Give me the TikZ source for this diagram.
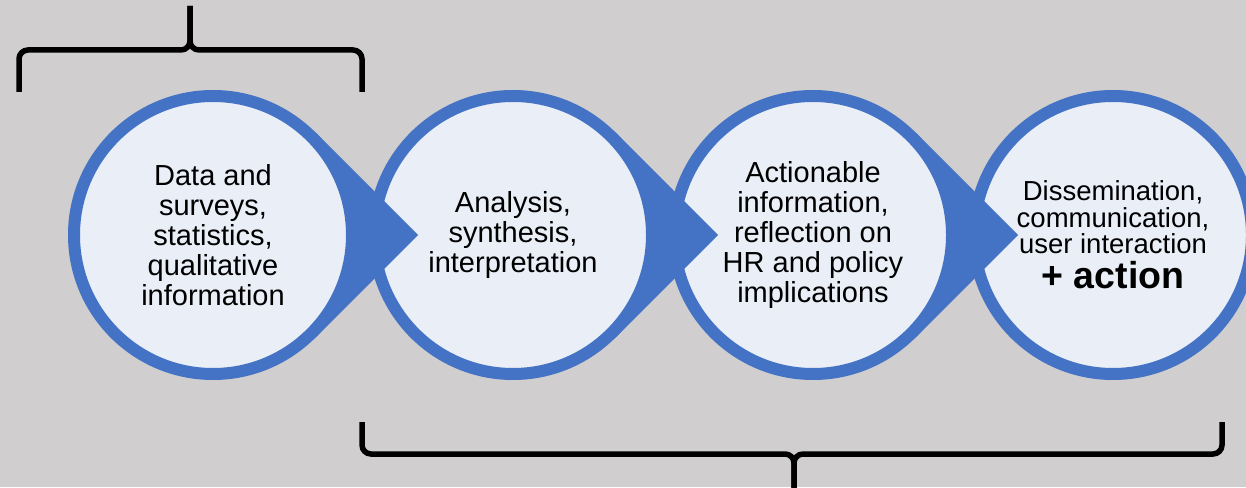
\documentclass[tikz,border=0pt]{standalone}
\usepackage{fontspec}
\setmainfont{Liberation Sans}
\usetikzlibrary{positioning}
\definecolor{bgray}{HTML}{D0CECE}
\definecolor{sblue}{HTML}{4472C4}
\definecolor{slight}{HTML}{E9EEF7}

\begin{document}
\begin{tikzpicture}[x=1pt,y=1pt,
		stage/.style={circle,draw=sblue,fill=slight,line width=12pt,minimum size=278pt,inner sep=0,align=center,font=\fontsize{29}{30}\selectfont},
		bline/.style={line width=5.5pt,rounded corners=9pt}]
		\fill[bgray] (0,0) rectangle (1246,487);
		\clip (0,0) rectangle (1246,487);
		\node[stage] (c1) at (213,252) {Data and\\surveys,\\statistics,\\qualitative\\information};
		\node[stage,right=10pt of c1] (c2) {Analysis,\\synthesis,\\interpretation};
		\node[stage,right=10pt of c2] (c3) {Actionable\\information,\\reflection on\\HR and policy\\implications};
		\node[stage,right=10pt of c3,font=\fontsize{27.5}{26.5}\selectfont] (c4) {Dissemination,\\communication,\\user interaction\\[7pt]{\fontsize{37.5}{38}\selectfont\bfseries + action}};
		% pointed tails between the stages
		\foreach \i in {1,2,3} {
			\coordinate[right=60pt of c\i] (t\i);
			\fill[sblue] (c\i.45) -- (t\i) -- (c\i.-45) -- ++(135:6pt) arc[start angle=-45,end angle=45,radius=139pt] -- cycle;
		}
		% braces
		\draw[bline] (19,395) |- (190,437) -- (190,481);
		\draw[bline] (362,395) |- (190,437) -- (190,481);
		\draw[bline] (362,65) |- (794,33) -- (794,-5);
		\draw[bline] (1222,65) |- (794,33) -- (794,-5);
	\end{tikzpicture}
\end{document}
